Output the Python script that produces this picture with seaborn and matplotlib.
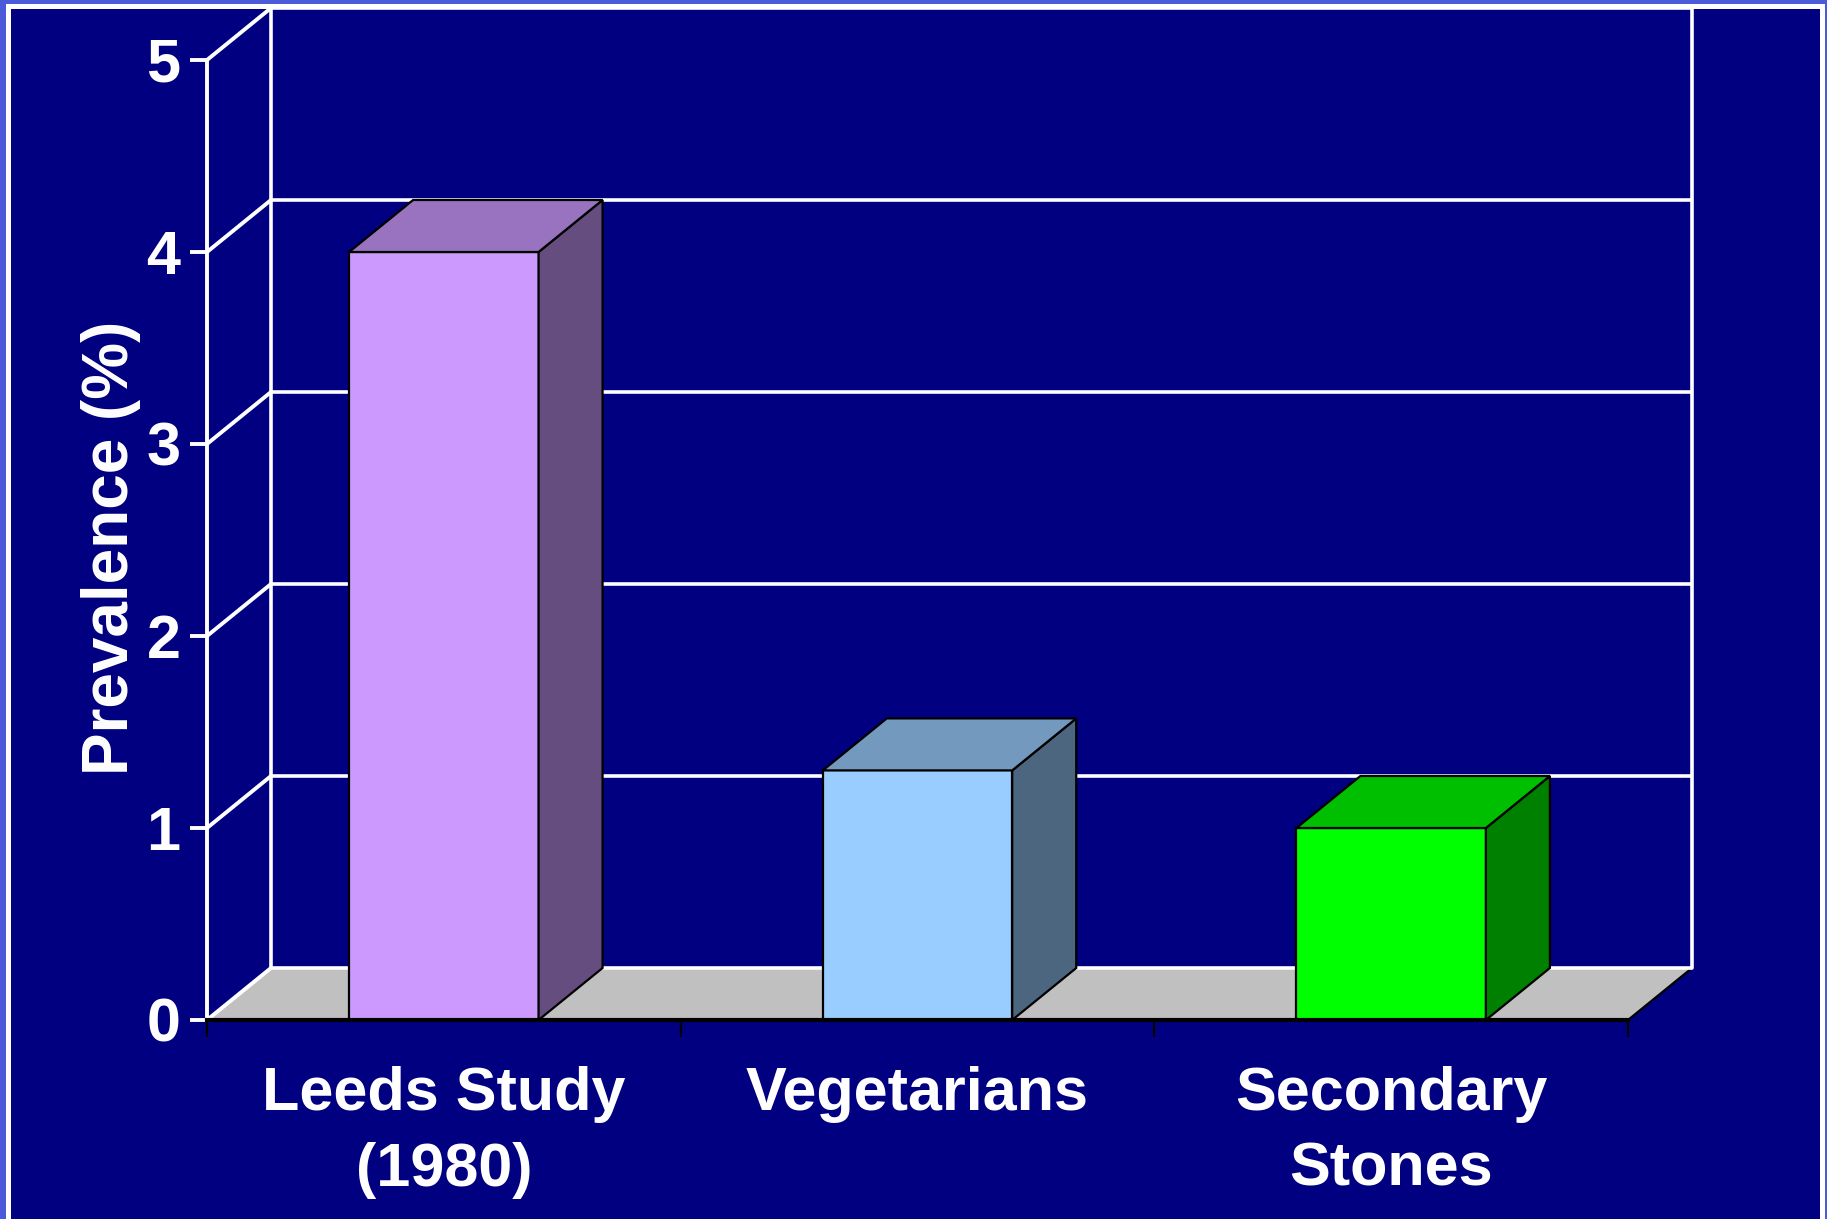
import matplotlib
matplotlib.use("Agg")
import matplotlib.pyplot as plt
from matplotlib.patches import Rectangle, Polygon
from matplotlib.colors import to_rgb
import seaborn as sns

# Data
categories = ["Leeds Study\n(1980)", "Vegetarians", "Secondary\nStones"]
prevalence = [4.0, 1.3, 1.0]
front_colors = ["#CC99FF", "#99CCFF", "#00FF00"]
y_ticks = [0, 1, 2, 3, 4, 5]

sns.set_style("white")
plt.rcParams["font.family"] = ["Liberation Sans", "DejaVu Sans"]
plt.rcParams["font.weight"] = "bold"

W, H, DPI = 1827, 1219, 100
NAVY = "#000080"
fig = plt.figure(figsize=(W / DPI, H / DPI), dpi=DPI)
fig.patch.set_facecolor("#4a5ad8")

def px_rect(x0, y0_top, x1, y1_top, **kw):
    # rectangle given in pixel coordinates measured from the top-left corner
    return Rectangle((x0 / W, 1 - y1_top / H), (x1 - x0) / W, (y1_top - y0_top) / H,
                     transform=fig.transFigure, **kw)

# slide panel with white frame (kept beneath the axes)
fig.patches.append(px_rect(6, 4, 1825, H + 5, facecolor="white", edgecolor="none", zorder=-2))
fig.patches.append(px_rect(11, 9, 1820, H + 5, facecolor=NAVY, edgecolor="none", zorder=-1))

# front plane of the chart box
left_px, right_px, zero_px, five_px = 207, 1628, 1020, 60
ax = fig.add_axes([left_px / W, 1 - zero_px / H, (right_px - left_px) / W, (zero_px - five_px) / H])
ax.set_facecolor("none")

sns.barplot(x=categories, y=prevalence, hue=categories, palette=front_colors, legend=False,
            width=0.4, edgecolor="black", linewidth=1.6, saturation=1, ax=ax)

ax.set_xlim(-0.5, 2.5)
ax.set_ylim(0, 5)

# depth offset of the 3-D box, in data units
dx = 64 / ((right_px - left_px) / 3)
dy = 52 / ((zero_px - five_px) / 5)

# floor
floor = Polygon([(-0.5, 0), (2.5, 0), (2.5 + dx, dy), (-0.5 + dx, dy)], closed=True,
                facecolor="#C0C0C0", edgecolor="none", zorder=0.5, clip_on=False)
ax.add_patch(floor)
ax.plot([2.5, 2.5 + dx], [0, dy], color="black", lw=1.6, zorder=0.6, clip_on=False)

# side wall diagonals and back-wall gridlines
for v in y_ticks:
    ax.plot([-0.5, -0.5 + dx], [v, v + dy], color="white", lw=2.8, zorder=1,
            clip_on=False, solid_capstyle="butt")
    ax.plot([-0.5 + dx, 2.5 + dx], [v + dy, v + dy], color="white", lw=2.6, zorder=1,
            clip_on=False, solid_capstyle="butt")
for xb in (-0.5 + dx, 2.5 + dx):
    ax.plot([xb, xb], [dy, 5 + dy], color="white", lw=2.6, zorder=1, clip_on=False)

# 3-D faces of the bars, built from the bar rectangles
def shade(c, f):
    r, g, b = to_rgb(c)
    return (r * f, g * f, b * f)

for bar, col in zip(ax.patches[:len(prevalence)], front_colors):
    x0 = bar.get_x()
    x1 = x0 + bar.get_width()
    h = bar.get_height()
    bar.set_zorder(3)
    top = Polygon([(x0, h), (x0 + dx, h + dy), (x1 + dx, h + dy), (x1, h)], closed=True,
                  facecolor=shade(col, 0.75), edgecolor="black", lw=1.6, zorder=3, clip_on=False)
    side = Polygon([(x1, 0), (x1 + dx, dy), (x1 + dx, h + dy), (x1, h)], closed=True,
                   facecolor=shade(col, 0.5), edgecolor="black", lw=1.6, zorder=3, clip_on=False)
    ax.add_patch(side)
    ax.add_patch(top)

# axes styling
for s in ("top", "right"):
    ax.spines[s].set_visible(False)
ax.spines["left"].set_color("white")
ax.spines["left"].set_linewidth(2.8)
ax.spines["bottom"].set_color("black")
ax.spines["bottom"].set_linewidth(3)
ax.spines["left"].set_zorder(4)
ax.spines["bottom"].set_zorder(4)

ax.set_yticks(y_ticks)
ax.set_yticklabels([str(t) for t in y_ticks])
ax.tick_params(axis="y", which="major", direction="out", length=12, width=2.8, color="white",
               labelcolor="white", labelsize=44, pad=7, left=True)
ax.set_xticks([0, 1, 2])
ax.set_xticklabels(categories, linespacing=1.43)
ax.set_xticks([-0.5, 0.5, 1.5, 2.5], minor=True)
ax.tick_params(axis="x", which="major", length=0, labelcolor="white", labelsize=44, pad=33)
ax.tick_params(axis="x", which="minor", direction="out", length=12, width=1.6, color="black",
               bottom=True)
for lbl in ax.get_xticklabels() + ax.get_yticklabels():
    lbl.set_fontweight("bold")

ax.set_xlabel("")
ax.set_ylabel("Prevalence (%)", color="white", fontsize=46, fontweight="bold")
ax.yaxis.label.set_rotation_mode("default")
ax.yaxis.label.set_verticalalignment("center")
ax.yaxis.label.set_horizontalalignment("center")
ax.yaxis.set_label_coords((111 - left_px) / (right_px - left_px), (zero_px - 548) / (zero_px - five_px))

fig.savefig("out.png", dpi=DPI, facecolor=fig.get_facecolor())
